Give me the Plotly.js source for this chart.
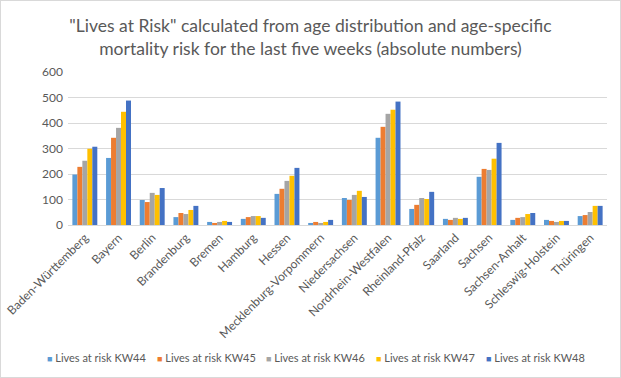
<!DOCTYPE html>
<html><head><meta charset="utf-8">
<script src="https://cdn.plot.ly/plotly-3.0.1.min.js"></script>
<style>html,body{margin:0;padding:0;background:#fff}#wrap{position:relative;width:621px;height:378px}#frame{position:absolute;left:0;top:0;width:619px;height:376px;border:1px solid #d9d9d9;pointer-events:none}</style>
</head><body><div id="wrap"><div id="chart" style="width:621px;height:378px"></div><div id="frame"></div></div>
<script>
const states = ["Baden-Württemberg","Bayern","Berlin","Brandenburg","Bremen","Hamburg","Hessen","Mecklenburg-Vorpommern","Niedersachsen","Nordrhein-Westfalen","Rheinland-Pfalz","Saarland","Sachsen","Sachsen-Anhalt","Schleswig-Holstein","Thüringen"];
const kw44 = [198,263,98,31,12,24,122,8,106,342,63,24,189,20,20,35];
const kw45 = [228,342,90,47,8,31,142,12,98,385,79,20,220,28,16,39];
const kw46 = [252,381,126,43,12,35,173,8,118,436,106,28,216,31,12,51];
const kw47 = [299,444,118,59,16,35,193,12,134,452,102,24,260,43,16,75];
const kw48 = [307,488,145,75,12,28,224,20,110,484,130,28,322,47,16,75];
const seriesNames = ["Lives at risk KW44","Lives at risk KW45","Lives at risk KW46","Lives at risk KW47","Lives at risk KW48"];
const colors = ["#5B9BD5","#ED7D31","#A5A5A5","#FFC000","#4472C4"];
const allSeries = [kw44,kw45,kw46,kw47,kw48];
const traces = allSeries.map((v,i)=>({type:'bar',x:states,y:v,name:seriesNames[i],marker:{color:colors[i]},hoverinfo:'x+y'}));
const font = "Lato, sans-serif";
const legX = [-0.042,0.161,0.364,0.568,0.771];
const annotations = seriesNames.map((n,i)=>({
  xref:'paper',yref:'paper',x:legX[i],y:-0.863,xanchor:'left',yanchor:'middle',showarrow:false,
  text:'<span style="color:'+colors[i]+';font-size:9px">■</span> '+n,
  font:{family:font,size:11,color:'#595959'}
}));
Plotly.newPlot('chart', traces, {
  width:621, height:378,
  margin:{l:68,r:14,t:72,b:153},
  paper_bgcolor:'#fff', plot_bgcolor:'#fff',
  barmode:'group', bargap:0.26, bargroupgap:0,
  font:{family:font,color:'#595959',size:12},
  title:{text:'"Lives at Risk" calculated from age distribution and age-specific<br>mortality risk for the last five weeks (absolute numbers)',
    font:{family:font,size:17.5,color:'#595959'},x:0.5,xanchor:'center',yref:'container',y:0.915,yanchor:'middle'},
  xaxis:{tickangle:-45,showgrid:false,showline:true,linecolor:'#d9d9d9',ticks:'',tickfont:{size:12,color:'#595959'},automargin:false},
  yaxis:{range:[0,600],dtick:100,showgrid:true,gridcolor:'#d9d9d9',zeroline:false,showline:false,ticks:'',ticklabelstandoff:4,tickfont:{size:12,color:'#595959'},automargin:false},
  annotations:annotations,
  showlegend:false
}, {displayModeBar:false, staticPlot:true});
</script></body></html>
